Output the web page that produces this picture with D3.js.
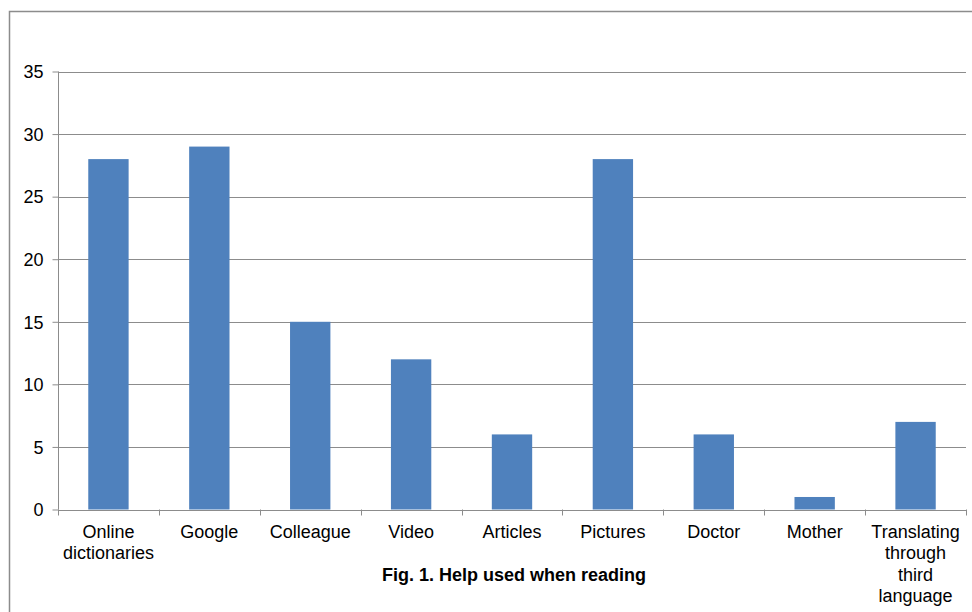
<!DOCTYPE html>
<html>
<head>
<meta charset="utf-8">
<script src="https://d3js.org/d3.v7.min.js"></script>
<style>
  body { margin: 0; background: #fff; }
  svg text { font-family: "Liberation Sans", Arial, sans-serif; fill: #000; }
</style>
</head>
<body>
<svg id="main-chart-svg" width="972" height="612"></svg>
<script>
// data
let categories = [
    ["Online", "dictionaries"],
    ["Google"],
    ["Colleague"],
    ["Video"],
    ["Articles"],
    ["Pictures"],
    ["Doctor"],
    ["Mother"],
    ["Translating", "through", "third", "language"]
];
let counts = [28, 29, 15, 12, 6, 28, 6, 1, 7];
let yTicks = [0, 5, 10, 15, 20, 25, 30, 35];
let title = "Fig. 1. Help used when reading";

let svg = d3.select("#main-chart-svg");

// outer frame (only left and top visible in the figure)
svg.append("rect")
    .attr("x", 9.5)
    .attr("y", 11.5)
    .attr("width", 1000)
    .attr("height", 700)
    .attr("fill", "none")
    .attr("stroke", "#8c8c8c")
    .attr("stroke-width", 1.5);

let plotLeft = 58, plotRight = 966, plotTop = 71.5, plotBottom = 509.5;

let xScale = d3.scaleBand()
    .domain(d3.range(categories.length))
    .range([plotLeft, plotRight])
    .paddingInner(0.6)
    .paddingOuter(0.3);

let yScale = d3.scaleLinear()
    .domain([0, 35])
    .range([plotBottom, plotTop]);

// grid lines
svg.append("g")
    .selectAll("line")
    .data(yTicks.filter(d => d > 0))
    .join("line")
    .attr("x1", plotLeft)
    .attr("x2", plotRight)
    .attr("y1", d => Math.round(yScale(d)) + 0.5)
    .attr("y2", d => Math.round(yScale(d)) + 0.5)
    .attr("stroke", "#8c8c8c")
    .attr("stroke-width", 1);

// bars
svg.append("g")
    .selectAll("rect")
    .data(counts)
    .join("rect")
    .attr("x", (d, i) => xScale(i))
    .attr("y", d => yScale(d))
    .attr("width", xScale.bandwidth())
    .attr("height", d => yScale(0) - yScale(d))
    .attr("fill", "#4f81bd");

// y axis
let yAxis = d3.axisLeft(yScale)
    .tickValues(yTicks)
    .tickSize(6)
    .tickPadding(9);
let yG = svg.append("g")
    .attr("transform", "translate(" + (plotLeft + 0.5) + ",0)")
    .call(yAxis);
yG.selectAll("path, line").attr("stroke", "#8c8c8c");
yG.select(".domain").attr("d", "M0," + plotTop + "V" + plotBottom);
yG.selectAll("text")
    .style("font-size", "18px")
    .attr("dy", "0.35em");

// x axis line and tick marks at band boundaries
let xG = svg.append("g");
xG.append("line")
    .attr("x1", plotLeft)
    .attr("x2", plotRight)
    .attr("y1", Math.round(plotBottom) + 0.5)
    .attr("y2", Math.round(plotBottom) + 0.5)
    .attr("stroke", "#8c8c8c");
let step = (plotRight - plotLeft) / categories.length;
xG.selectAll("line.tick")
    .data(d3.range(categories.length + 1))
    .join("line")
    .attr("class", "tick")
    .attr("x1", i => Math.round(plotLeft + i * step) + 0.5)
    .attr("x2", i => Math.round(plotLeft + i * step) + 0.5)
    .attr("y1", plotBottom)
    .attr("y2", plotBottom + 6)
    .attr("stroke", "#8c8c8c");

// category labels
let labels = svg.append("g")
    .selectAll("text")
    .data(categories)
    .join("text")
    .attr("text-anchor", "middle")
    .style("font-size", "18px")
    .attr("x", (d, i) => xScale(i) + xScale.bandwidth() / 2)
    .attr("y", 537.5);
labels.selectAll("tspan")
    .data(d => d)
    .join("tspan")
    .attr("x", function () { return d3.select(this.parentNode).attr("x"); })
    .attr("dy", (d, i) => i === 0 ? 0 : 21.5)
    .text(d => d);

// caption
svg.append("text")
    .attr("x", 514)
    .attr("y", 581)
    .attr("text-anchor", "middle")
    .style("font-size", "18px")
    .style("font-weight", "bold")
    .text(title);
</script>
</body>
</html>
